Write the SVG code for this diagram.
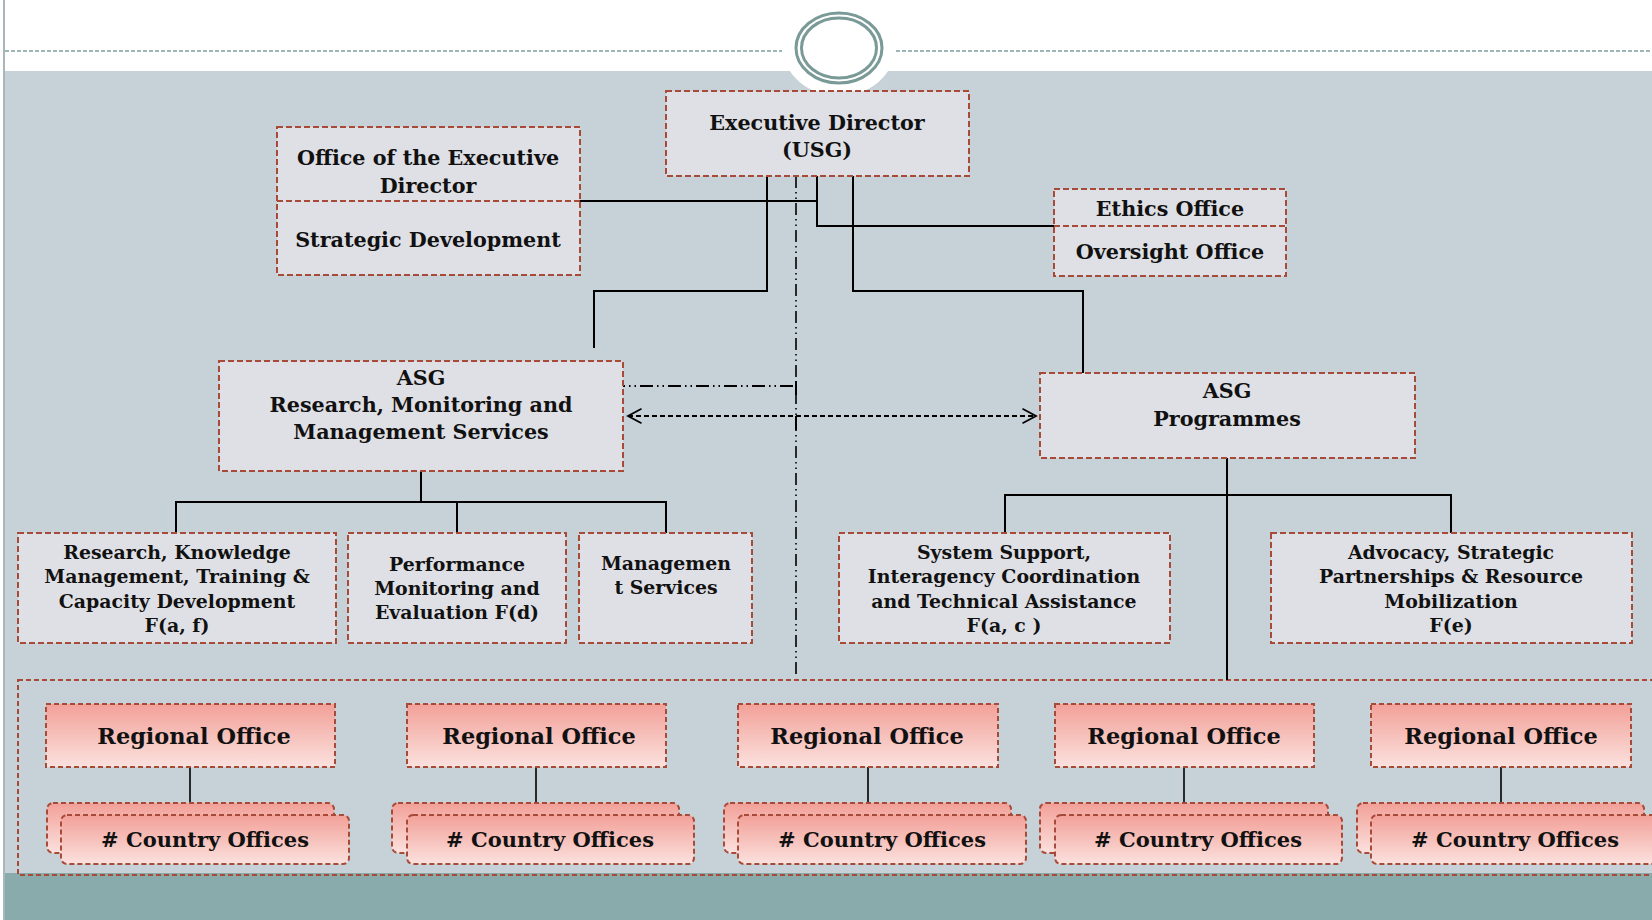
<svg xmlns="http://www.w3.org/2000/svg" width="1652" height="920" viewBox="0 0 1652 920">
<defs>
<linearGradient id="pink" x1="0" y1="0" x2="0" y2="1">
<stop offset="0" stop-color="#f2a098"/>
<stop offset="1" stop-color="#fbe1de"/>
</linearGradient>
<marker id="chev" viewBox="0 0 20 20" refX="17" refY="10" markerWidth="18" markerHeight="18" markerUnits="userSpaceOnUse" orient="auto-start-reverse">
<path d="M2 2 L17 10 L2 18" fill="none" stroke="#000" stroke-width="2"/>
</marker>
<style>
.box{fill:#dfe0e5;stroke:#a84a38;stroke-width:2;stroke-dasharray:6 3}
.ro{fill:url(#pink);stroke:#a84a38;stroke-width:2;stroke-dasharray:5 3}
.ln{stroke:#000;stroke-width:2;fill:none}
.thin{stroke:#000;stroke-width:1.6;fill:none}
.t{font-family:"DejaVu Serif","Liberation Serif",serif;font-weight:bold;text-anchor:middle;fill:#111}
.f20{font-size:20.7px}
.f18{font-size:18.9px}
.f21{font-size:21px}
.f22{font-size:22.4px}
</style>
</defs>
<!-- background -->
<rect x="0" y="0" width="1652" height="920" fill="#ffffff"/>
<rect x="5" y="71" width="1647" height="804" fill="#c6d1d8"/>
<rect x="5" y="873" width="1647" height="47" fill="#8aabab"/>
<line x1="4" y1="0" x2="4" y2="920" stroke="#8d9fa0" stroke-width="1.5"/>
<line x1="5" y1="51" x2="782" y2="51" stroke="#7f9e9e" stroke-width="1.5" stroke-dasharray="4 2"/>
<line x1="896" y1="51" x2="1652" y2="51" stroke="#7f9e9e" stroke-width="1.5" stroke-dasharray="4 2"/>
<ellipse cx="839" cy="48" rx="56" ry="48" fill="#ffffff"/>
<ellipse cx="839" cy="48" rx="43" ry="35" fill="none" stroke="#7a9a98" stroke-width="3"/>
<ellipse cx="839" cy="48" rx="37.5" ry="30" fill="none" stroke="#7a9a98" stroke-width="3"/>
<!-- container -->
<rect id="field-offices" x="18" y="680" width="1650" height="195" fill="none" stroke="#a84a38" stroke-width="2" stroke-dasharray="5 3"/>
<!-- connectors -->
<g id="connectors">
<polyline class="ln" points="580,201 817,201"/>
<polyline class="ln" points="817,176 817,226 1054,226"/>
<polyline class="ln" points="767,176 767,291 594,291 594,348"/>
<polyline class="ln" points="853,176 853,291 1083,291 1083,373"/>
<line x1="796" y1="176" x2="796" y2="678" stroke="#000" stroke-width="1.6" stroke-dasharray="12 4 1.5 4 1.5 4"/>
<line x1="612" y1="386" x2="796" y2="386" stroke="#000" stroke-width="2" stroke-dasharray="13 4 1.5 4 1.5 4"/>
<line x1="796" y1="381" x2="796" y2="395" stroke="#000" stroke-width="2"/>
<line x1="796" y1="416" x2="796" y2="430" stroke="#000" stroke-width="2"/>
<line x1="628" y1="416" x2="1036" y2="416" stroke="#000" stroke-width="2" stroke-dasharray="5 3" marker-start="url(#chev)" marker-end="url(#chev)"/>
<polyline class="ln" points="421,471 421,502"/>
<polyline class="ln" points="176,533 176,502 666,502 666,533"/>
<polyline class="ln" points="457,502 457,533"/>
<polyline class="ln" points="1227,458 1227,680"/>
<polyline class="ln" points="1005,533 1005,495 1451,495 1451,533"/>
<line class="thin" x1="190" y1="767" x2="190" y2="803"/>
<line class="thin" x1="536" y1="767" x2="536" y2="803"/>
<line class="thin" x1="868" y1="767" x2="868" y2="803"/>
<line class="thin" x1="1184" y1="767" x2="1184" y2="803"/>
<line class="thin" x1="1501" y1="767" x2="1501" y2="803"/>
</g>
<!-- nodes -->
<g id="executive-director">
<rect class="box" x="666" y="91" width="303" height="85"/>
<text class="t f20" x="817" y="130">Executive Director</text>
<text class="t f20" x="817" y="157">(USG)</text>
</g>
<g id="office-ed">
<rect class="box" x="277" y="127" width="303" height="148"/>
<line x1="277" y1="201" x2="580" y2="201" stroke="#a84a38" stroke-width="2" stroke-dasharray="6 3"/>
<text class="t f20" x="428" y="165">Office of the Executive</text>
<text class="t f20" x="428" y="193">Director</text>
<text class="t f20" x="428" y="247">Strategic Development</text>
</g>
<g id="ethics-oversight">
<rect class="box" x="1054" y="189" width="232" height="87"/>
<line x1="1054" y1="226" x2="1286" y2="226" stroke="#a84a38" stroke-width="2" stroke-dasharray="6 3"/>
<text class="t f20" x="1170" y="216">Ethics Office</text>
<text class="t f20" x="1170" y="259">Oversight Office</text>
</g>
<g id="asg-rmms">
<rect class="box" x="219" y="361" width="404" height="110"/>
<text class="t f20" x="421" y="385">ASG</text>
<text class="t f20" x="421" y="412">Research, Monitoring and</text>
<text class="t f20" x="421" y="439">Management Services</text>
</g>
<g id="asg-programmes">
<rect class="box" x="1040" y="373" width="375" height="85"/>
<text class="t f20" x="1227" y="398">ASG</text>
<text class="t f20" x="1227" y="426">Programmes</text>
</g>
<g id="research-km">
<rect class="box" x="18" y="533" width="318" height="110"/>
<text class="t f18" x="177" y="559">Research, Knowledge</text>
<text class="t f18" x="177" y="583">Management, Training &amp;</text>
<text class="t f18" x="177" y="608">Capacity  Development</text>
<text class="t f18" x="177" y="632">F(a, f)</text>
</g>
<g id="performance">
<rect class="box" x="348" y="533" width="218" height="110"/>
<text class="t f18" x="457" y="571">Performance</text>
<text class="t f18" x="457" y="595">Monitoring and</text>
<text class="t f18" x="457" y="619">Evaluation  F(d)</text>
</g>
<g id="management-services">
<rect class="box" x="579" y="533" width="173" height="110"/>
<text class="t f18" x="666" y="570">Managemen</text>
<text class="t f18" x="666" y="594">t Services</text>
</g>
<g id="system-support">
<rect class="box" x="839" y="533" width="331" height="110"/>
<text class="t f18" x="1004" y="559">System Support,</text>
<text class="t f18" x="1004" y="583">Interagency Coordination</text>
<text class="t f18" x="1004" y="608">and Technical  Assistance</text>
<text class="t f18" x="1004" y="632">F(a, c )</text>
</g>
<g id="advocacy">
<rect class="box" x="1271" y="533" width="361" height="110"/>
<text class="t f18" x="1451" y="559">Advocacy, Strategic</text>
<text class="t f18" x="1451" y="583">Partnerships &amp; Resource</text>
<text class="t f18" x="1451" y="608">Mobilization</text>
<text class="t f18" x="1451" y="632">F(e)</text>
</g>
<g id="regional-office-1">
<rect class="ro" x="46" y="704" width="289" height="63"/>
<text class="t f22" x="194" y="744">Regional Office</text>
</g>
<g id="country-offices-1">
<rect class="ro" x="47" y="803" width="287" height="50" rx="6"/>
<rect class="ro" x="61" y="815" width="288" height="49" rx="6"/>
<text class="t f21" x="205" y="847"># Country Offices</text>
</g>
<g id="regional-office-2">
<rect class="ro" x="407" y="704" width="259" height="63"/>
<text class="t f22" x="539" y="744">Regional Office</text>
</g>
<g id="country-offices-2">
<rect class="ro" x="392" y="803" width="287" height="50" rx="6"/>
<rect class="ro" x="407" y="815" width="287" height="49" rx="6"/>
<text class="t f21" x="550" y="847"># Country Offices</text>
</g>
<g id="regional-office-3">
<rect class="ro" x="738" y="704" width="260" height="63"/>
<text class="t f22" x="867" y="744">Regional Office</text>
</g>
<g id="country-offices-3">
<rect class="ro" x="724" y="803" width="287" height="50" rx="6"/>
<rect class="ro" x="738" y="815" width="288" height="49" rx="6"/>
<text class="t f21" x="882" y="847"># Country Offices</text>
</g>
<g id="regional-office-4">
<rect class="ro" x="1055" y="704" width="259" height="63"/>
<text class="t f22" x="1184" y="744">Regional Office</text>
</g>
<g id="country-offices-4">
<rect class="ro" x="1040" y="803" width="288" height="50" rx="6"/>
<rect class="ro" x="1055" y="815" width="287" height="49" rx="6"/>
<text class="t f21" x="1198" y="847"># Country Offices</text>
</g>
<g id="regional-office-5">
<rect class="ro" x="1371" y="704" width="260" height="63"/>
<text class="t f22" x="1501" y="744">Regional Office</text>
</g>
<g id="country-offices-5">
<rect class="ro" x="1357" y="803" width="287" height="50" rx="6"/>
<rect class="ro" x="1371" y="815" width="288" height="49" rx="6"/>
<text class="t f21" x="1515" y="847"># Country Offices</text>
</g>
</svg>
